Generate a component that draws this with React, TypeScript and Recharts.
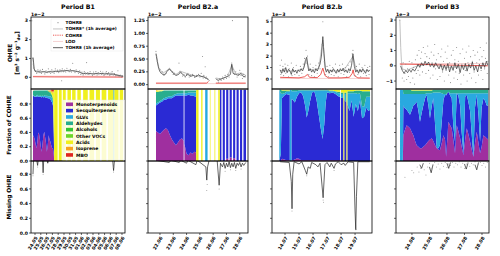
import React from 'react';
import { ComposedChart, AreaChart, Area, Line, Scatter, XAxis, YAxis } from 'recharts';

const FONT = 'DejaVu Sans, Verdana, sans-serif';

// ---------- labels ----------
const periodTitles = ['Period B1', 'Period B2.a', 'Period B2.b', 'Period B3'];
const offsetTexts = ['1e\u22122', '1e\u22122', '1e\u22123', '1e\u22123'];
const b1Dates = ['24.05', '25.05', '26.05', '27.05', '28.05', '29.05', '30.05', '31.05', '01.06', '02.06', '03.06', '04.06', '05.06', '06.06', '07.06', '08.06'];
const b2aDates = ['22.06', '23.06', '24.06', '25.06', '26.06', '27.06', '28.06'];
const b2bDates = ['14.07', '15.07', '16.07', '17.07', '18.07', '19.07'];
const b3Dates = ['24.08', '25.08', '26.08', '27.08', '28.08'];

const categories = ['Monoterpenoids', 'Sesquiterpenes', 'GLVs', 'Aldehydes', 'Alcohols', 'Other VOCs', 'Acids', 'Isoprene', 'MBO'];
const catColors = ['#9f2f9f', '#2a2ad4', '#29a9e0', '#28ad8e', '#33c433', '#6cd62a', '#f0f01e', '#f7a21f', '#df2620'];
const topLegend = ['TOHRE', 'TOHRE* (1h average)', 'COHRE', 'LOD', 'TOHRE (1h average)'];

// ---------- top row: OHRE (days since first tick, value in offset units) ----------
const b1Scatter = [[-0.55,3.0],[-0.4,1.0],[-0.3,0.7],[-0.2,0.5],[0.1,0.35],[0.3,0.2],[0.5,0.4],[0.7,0.25],[0.9,0.38],[1.1,0.2],[1.3,0.42],[1.5,0.3],[1.7,0.18],[1.9,0.35],[2.1,0.25],[2.3,0.45],[2.5,0.28],[2.7,0.2],[2.9,0.4],[3.1,0.3],[3.3,0.22],[3.5,0.45],[3.7,0.3],[3.9,0.38],[4.1,0.25],[4.3,0.4],[4.5,0.3],[4.6,-0.18],[4.7,0.45],[4.9,0.3],[5.1,0.38],[5.3,0.28],[5.5,0.48],[5.7,0.35],[5.9,0.3],[6.1,0.42],[6.3,0.28],[6.5,0.75],[6.7,0.35],[6.9,0.25],[7.1,0.4],[7.3,0.3],[7.5,0.22],[7.7,0.35],[7.9,0.15],[8.1,0.28],[8.3,0.12],[8.5,0.3],[8.7,0.18],[8.9,0.78],[9.1,0.25],[9.3,0.15],[9.5,0.3],[9.7,0.2],[9.9,0.1],[10.1,0.28],[10.3,0.18],[10.5,0.3],[10.7,0.12],[10.9,0.25],[11.1,0.2],[11.3,0.32],[11.5,0.15],[11.7,0.28],[11.9,0.1],[12.1,0.22],[12.3,0.3],[12.5,0.15],[12.7,0.25],[12.9,0.1],[13.1,0.22],[13.3,0.3],[13.5,0.12],[13.7,0.2],[13.9,0.08],[14.1,0.15],[14.3,0.35],[14.5,0.05],[14.7,0.12],[14.9,0.02],[15.1,0.08]];
const b1Star = [[-0.35,1.05],[-0.2,0.5],[0,0.35],[1,0.32],[2,0.3],[3,0.33],[4,0.34],[5,0.36],[6,0.37],[7,0.34],[7.9,0.28],[8.1,0.22],[9,0.21],[10,0.2],[11,0.21],[12,0.19],[13,0.18],[14,0.13],[15.2,0.06]];
const b1Avg = [[-0.35,1.05],[-0.25,0.8],[-0.15,0.45],[0,0.32],[0.3,0.28],[0.6,0.3],[1,0.27],[1.5,0.3],[2,0.26],[2.5,0.3],[3,0.28],[3.5,0.32],[4,0.3],[4.5,0.34],[5,0.33],[5.5,0.36],[6,0.33],[6.5,0.35],[7,0.32],[7.5,0.3],[8,0.22],[8.3,0.18],[8.7,0.22],[9,0.18],[9.5,0.2],[10,0.17],[10.5,0.2],[11,0.18],[11.5,0.21],[12,0.17],[12.5,0.2],[13,0.16],[13.5,0.18],[14,0.12],[14.5,0.1],[15,0.06],[15.2,0.05]];
const b1Cohre = [[-0.35,0.03],[3.3,0.02],[8,0.02],[15.2,0.01]];
const b1Lod = [[-0.35,0.06],[15.2,0.06]];

const b2aScatter = [[-0.3,0.65],[-0.25,0.55],[-0.2,0.45],[-0.1,0.35],[0,0.3],[0.1,0.22],[0.2,0.25],[0.3,0.18],[0.45,0.22],[0.6,0.28],[0.7,0.32],[0.8,0.3],[0.9,0.25],[1.0,0.2],[1.1,0.22],[1.25,0.18],[1.4,0.2],[1.43,0.42],[1.5,0.26],[1.6,0.22],[1.7,0.17],[1.8,0.2],[1.9,0.15],[2.0,0.2],[2.1,0.22],[2.2,0.15],[2.3,0.18],[2.45,0.2],[2.6,0.14],[2.75,0.18],[2.9,0.2],[3.0,0.15],[3.1,0.22],[3.2,0.55],[3.25,0.13],[3.3,0.18],[3.4,0.35],[3.45,0.12],[3.5,0.15],[3.6,0.1],[3.7,0.08],[4.3,0.1],[4.4,0.05],[4.5,0.12],[4.6,0.08],[4.7,0.15],[4.8,0.1],[4.9,0.18],[5.0,0.12],[5.1,0.2],[5.2,0.15],[5.3,0.22],[5.4,0.42],[5.45,1.25],[5.5,0.3],[5.6,0.2],[5.7,0.25],[5.8,0.15],[5.9,0.2],[6.0,0.28],[6.1,0.18],[6.2,0.12],[6.3,0.2],[6.4,0.15]];
const b2aStar = [[-0.3,0.62],[-0.1,0.34],[0.2,0.22],[0.7,0.31],[1.2,0.2],[1.55,0.26],[2.1,0.21],[2.7,0.17],[3.3,0.16],[3.65,0.11],[3.7,null],[4.2,0.13],[4.6,0.11],[5.1,0.17],[5.4,0.38],[5.7,0.21],[6.1,0.23],[6.45,0.18]];
const b2aAvg = [[-0.3,0.6],[-0.2,0.45],[-0.1,0.32],[0,0.25],[0.2,0.2],[0.4,0.2],[0.55,0.27],[0.7,0.3],[0.85,0.27],[1.0,0.22],[1.2,0.18],[1.4,0.2],[1.55,0.25],[1.7,0.2],[1.9,0.16],[2.1,0.2],[2.3,0.16],[2.5,0.18],[2.7,0.15],[2.9,0.19],[3.1,0.16],[3.3,0.15],[3.5,0.12],[3.65,0.1],[3.7,null],[4.2,0.12],[4.35,0.08],[4.5,0.1],[4.7,0.12],[4.9,0.14],[5.1,0.16],[5.3,0.2],[5.4,0.4],[5.5,0.22],[5.7,0.2],[5.9,0.18],[6.1,0.22],[6.3,0.15],[6.45,0.17]];
const b2aCohre = [[-0.3,0.03],[3.5,0.03],[3.65,0.06],[3.7,null],[4.2,0.03],[6.45,0.03]];
const b2aLod = [[-0.3,0.02],[6.45,0.02]];

const b2bScatter = [[-0.35,1.2],[-0.3,0.4],[-0.25,1.65],[-0.2,0.6],[-0.15,1.1],[-0.1,0.3],[-0.05,0.9],[0.0,1.3],[0.05,0.5],[0.1,0.8],[0.2,1.2],[0.25,0.2],[0.3,0.9],[0.4,0.6],[0.45,1.4],[0.5,0.3],[0.6,1.0],[0.7,0.4],[0.8,1.2],[0.9,0.7],[1.0,0.3],[1.1,1.1],[1.2,0.5],[1.3,1.3],[1.4,1.8],[1.5,2.5],[1.55,1.4],[1.6,2.0],[1.7,0.4],[1.8,1.3],[1.9,0.3],[2.0,1.0],[2.1,0.2],[2.2,1.2],[2.3,0.5],[2.4,1.4],[2.5,0.9],[2.6,2.5],[2.65,3.0],[2.7,5.0],[2.75,2.8],[2.8,1.5],[2.9,0.4],[3.0,1.1],[3.1,0.2],[3.2,1.2],[3.3,0.4],[3.4,1.0],[3.5,0.3],[3.6,1.3],[3.7,0.6],[3.8,0.2],[3.9,1.2],[4.0,0.5],[4.1,1.3],[4.2,0.4],[4.3,1.0],[4.4,0.2],[4.5,1.2],[4.6,0.6],[4.7,1.5],[4.8,2.2],[4.85,2.5],[4.9,1.6],[5.0,0.3],[5.1,1.1],[5.2,0.4],[5.3,1.3],[5.4,0.2],[5.5,1.0],[5.6,0.5],[5.7,1.2],[5.8,0.3],[5.9,1.0],[6.0,0.4],[6.05,1.1]];
const b2bStar = [[-0.35,0.75],[0.2,0.7],[0.8,0.72],[1.3,0.9],[1.55,1.7],[1.75,0.8],[2.4,0.9],[2.7,3.4],[2.9,0.8],[3.5,0.7],[4.2,0.75],[4.86,2.0],[5.1,0.7],[6.05,0.72]];
const b2bAvg = [[-0.35,0.8],[-0.25,0.5],[-0.15,0.9],[-0.05,0.6],[0.05,1.0],[0.15,0.55],[0.25,0.85],[0.35,0.7],[0.45,0.4],[0.55,0.9],[0.65,0.6],[0.75,0.75],[0.85,0.5],[0.95,0.8],[1.05,0.65],[1.15,0.9],[1.25,0.7],[1.35,1.0],[1.45,1.6],[1.55,1.9],[1.62,1.2],[1.7,0.7],[1.8,0.9],[1.9,0.6],[2.0,0.8],[2.1,0.55],[2.2,0.9],[2.3,0.7],[2.4,1.0],[2.5,1.3],[2.6,2.0],[2.7,3.7],[2.78,2.2],[2.86,1.0],[2.95,0.6],[3.05,0.85],[3.15,0.5],[3.25,0.8],[3.35,0.6],[3.45,0.9],[3.55,0.7],[3.65,0.5],[3.75,0.85],[3.85,0.6],[3.95,0.9],[4.05,0.7],[4.15,0.95],[4.25,0.6],[4.35,0.8],[4.45,0.55],[4.55,0.9],[4.65,0.7],[4.75,1.2],[4.85,2.2],[4.95,1.1],[5.05,0.6],[5.15,0.8],[5.25,0.5],[5.35,0.85],[5.45,0.6],[5.55,0.9],[5.65,0.7],[5.75,0.5],[5.85,0.85],[5.95,0.65],[6.05,0.8]];
const b2bCohre = [[-0.35,0.15],[0.5,0.12],[1.0,0.1],[1.4,0.2],[1.6,0.4],[1.75,0.15],[2.3,0.12],[2.55,0.4],[2.7,0.95],[2.85,0.3],[3.1,0.1],[4.0,0.1],[4.6,0.15],[4.8,0.5],[4.86,0.8],[4.95,0.3],[5.2,0.1],[6.05,0.08]];
const b2bLod = [[-0.35,0.05],[6.05,0.05]];

const b3Scatter = [[-0.69,3.0],[-0.6,-0.2],[-0.55,-0.8],[-0.5,0.2],[-0.45,-1.0],[-0.4,-0.5],[-0.35,0.1],[-0.3,-0.9],[-0.25,-0.2],[-0.2,-0.7],[-0.15,0.3],[-0.1,-1.1],[-0.05,-0.4],[0.0,0.2],[0.05,-0.8],[0.1,-0.1],[0.15,-1.2],[0.2,0.4],[0.25,-0.5],[0.3,0.7],[0.35,-0.3],[0.4,1.0],[0.45,-0.6],[0.5,0.5],[0.55,0.9],[0.6,-0.4],[0.65,1.2],[0.7,0.1],[0.75,0.8],[0.8,-0.5],[0.85,0.6],[0.9,1.3],[0.95,-0.3],[1.0,0.5],[1.05,-0.8],[1.1,0.9],[1.15,0.2],[1.2,-0.6],[1.25,0.7],[1.3,1.4],[1.35,-0.2],[1.4,0.4],[1.45,-0.9],[1.5,0.8],[1.55,0.1],[1.6,-0.7],[1.65,0.6],[1.7,1.1],[1.75,-0.4],[1.8,0.3],[1.85,-1.0],[1.9,0.9],[1.95,-0.3],[2.0,0.5],[2.05,1.3],[2.1,-0.6],[2.15,0.2],[2.2,-1.1],[2.25,0.7],[2.3,-0.2],[2.35,1.0],[2.4,-0.8],[2.45,0.4],[2.5,-0.4],[2.55,1.2],[2.6,-0.9],[2.65,0.3],[2.7,-0.5],[2.75,0.8],[2.8,-1.2],[2.85,0.1],[2.9,1.1],[2.95,-0.6],[3.0,0.5],[3.05,-0.3],[3.1,0.9],[3.15,-1.0],[3.2,0.2],[3.25,1.3],[3.3,-0.5],[3.35,0.6],[3.4,-0.8],[3.45,0.3],[3.5,1.0],[3.55,-0.4],[3.6,0.7],[3.65,-1.1],[3.7,0.2],[3.75,0.9],[3.8,-0.6],[3.85,0.4],[3.9,1.2],[3.95,-0.3],[4.0,0.6],[4.05,-0.9],[4.1,1.0],[4.15,-0.2],[4.2,0.5],[4.25,1.5],[4.3,-0.5],[4.33,0.3]];
const b3Star = [[-0.69,3.0],[-0.64,1.2],[-0.6,0.3],[-0.55,-0.2],[-0.3,-0.3],[0.3,0.0],[1.0,0.1],[2.0,-0.1],[3.0,-0.05],[4.33,0.05]];
const b3Avg = [[-0.65,0.0],[-0.55,-0.3],[-0.45,-0.5],[-0.35,-0.3],[-0.25,-0.45],[-0.15,-0.25],[-0.05,-0.4],[0.05,-0.2],[0.15,-0.35],[0.25,-0.15],[0.35,0.1],[0.45,-0.1],[0.55,0.2],[0.65,0.0],[0.75,0.3],[0.85,0.05],[0.95,0.25],[1.05,-0.05],[1.15,0.15],[1.25,-0.1],[1.35,0.2],[1.45,0.0],[1.55,-0.2],[1.65,0.1],[1.75,-0.3],[1.85,0.05],[1.95,-0.25],[2.05,0.15],[2.15,-0.4],[2.25,0.0],[2.35,-0.3],[2.45,0.2],[2.55,-0.2],[2.65,0.1],[2.75,-0.45],[2.85,0.05],[2.95,-0.25],[3.05,0.15],[3.15,-0.35],[3.25,0.1],[3.35,-0.15],[3.45,0.25],[3.55,-0.3],[3.65,0.0],[3.75,-0.4],[3.85,0.1],[3.95,-0.2],[4.05,0.2],[4.15,-0.1],[4.25,0.3],[4.33,0.05]];
const b3Cohre = [[-0.69,0.11],[0,0.1],[1,0.08],[2,0.05],[3,0.03],[4.33,0.0]];
const b3Lod = [[-0.69,0.15],[4.33,0.15]];

// ---------- middle row: fraction of COHRE ----------
// continuous samples: [t, mono, sesq, glv, ald, alc, other, acid, isoprene, mbo]
// stripes (isolated samples between data gaps): [tStart, tEnd, mono, sesq, glv, ald, alc, other, acid, isoprene, mbo]
const b1Frac = [
  [-0.35,0.36,0.56,0,0.06,0,0,0,0.01],[-0.2,0.34,0.57,0.01,0.07],[-0.05,0.3,0.6,0.01,0.08],[0.1,0.24,0.66,0.01,0.08],
  [0.25,0.18,0.72,0.02,0.07],[0.4,0.26,0.65,0.02,0.06],[0.55,0.4,0.5,0.01,0.08],[0.7,0.38,0.52,0.02,0.07],
  [0.85,0.3,0.6,0.01,0.08],[1.0,0.2,0.7,0.02,0.07],[1.15,0.13,0.76,0.02,0.08],[1.3,0.24,0.66,0.02,0.07],
  [1.45,0.36,0.53,0.02,0.08],[1.6,0.41,0.49,0.02,0.07],[1.75,0.33,0.56,0.03,0.07],[1.9,0.25,0.64,0.02,0.08],
  [2.05,0.13,0.76,0.03,0.07],[2.2,0.22,0.66,0.03,0.07,0.01],[2.35,0.36,0.52,0.03,0.06,0.01,0,0,0.01],
  [2.5,0.3,0.57,0.04,0.05,0.01,0,0,0.02],[2.65,0.27,0.6,0.04,0.05,0.01,0.01,0,0.01],
  [2.8,0.22,0.62,0.05,0.04,0.01,0.01,0.02,0.02,0.01],[2.95,0.18,0.64,0.06,0.04,0,0.01,0.03,0.02,0.02],
  [3.1,0.18,0.6,0.06,0.03,0,0.01,0.08,0.02,0.02],[3.25,0.08,0.25,0.04,0.02,0,0.01,0.56,0.02,0.02],
];
const b1Stripes = [
  [3.3,3.9,0,0,0,0,0,0,1],[4.1,4.6,0,0,0,0,0,0,1],[4.8,5.3,0,0,0,0,0,0,1],[5.6,6.2,0,0,0,0,0,0,1],
  [6.4,7.0,0,0,0,0,0,0,1],[7.3,7.9,0,0,0,0,0,0,1],[8.3,9.1,0,0,0,0,0,0,1],[9.4,10.2,0,0,0,0,0,0,1],
  [10.5,11.2,0,0,0,0,0,0,1],[11.5,12.3,0,0,0,0,0,0,1],[12.6,13.5,0,0,0,0,0,0,1],[13.5,13.7,0,0,1],
  [13.7,14.4,0,0,0,0,0,0,1],[14.6,15.2,0,0,0,0,0,0,1],
];
const b2aFrac = [
  [-0.3,0.42,0.36,0.03,0.16,0,0,0.02,0.01],[-0.15,0.4,0.4,0.02,0.15,0,0,0.02],[0.0,0.38,0.44,0.02,0.14,0,0,0.01],
  [0.15,0.41,0.42,0.03,0.12,0,0,0.01],[0.3,0.44,0.42,0.02,0.11],[0.45,0.46,0.4,0.03,0.1],[0.6,0.43,0.45,0.02,0.09],
  [0.75,0.36,0.52,0.03,0.08],[0.9,0.3,0.58,0.03,0.08],[1.05,0.26,0.64,0.03,0.06],[1.2,0.22,0.7,0.02,0.05],
  [1.35,0.26,0.66,0.03,0.04],[1.5,0.3,0.62,0.03,0.04],[1.65,0.32,0.6,0.03,0.04],[1.78,0.28,0.64,0.03,0.04],
  [1.78,0],[1.84,0],[1.84,0.24,0.68,0.03,0.04],
  [2.0,0.1,0.82,0.03,0.04],[2.15,0.08,0.85,0.03,0.03],[2.3,0.12,0.8,0.04,0.03],[2.45,0.1,0.82,0.04,0.03],
  [2.6,0.13,0.78,0.05,0.03],[2.72,0.12,0.78,0.06,0.03],
];
const b2aStripes = [
  [2.72,2.9,0,0,0,0,0,0,1],[3.1,3.2,0,0,0,0,0,0,1],[3.4,3.58,0,0,1],[3.75,3.8,0,0,0,0,0,0,1],
  [4.1,4.16,0,0,0,0,0,0,1],[4.38,4.5,0,0,0,0,0,0,1],[4.5,4.62,0,1],[4.72,4.88,0,1],[4.98,5.14,0.03,0.97],
  [5.24,5.4,0.05,0.95],[5.5,5.66,0.04,0.96],[5.76,5.92,0,1],[6.02,6.18,0,1],[6.28,6.47,0,1],
];
const b2bFrac = [
  [-0.41,0,0,1],[-0.3,0,0.1,0.85,0.05],[-0.22,0.03,0.85,0.06,0.05,0,0,0.01],[-0.05,0.02,0.9,0.03,0.04,0,0,0.01],
  [0.1,0.01,0.93,0.03,0.02,0,0,0.01],[0.25,0.01,0.92,0.04,0.02,0,0,0.01],[0.34,0.01,0.92,0.04,0.02,0,0,0.01],
  [0.34,0,0,1],[0.46,0,0,1],[0.46,0.01,0.86,0.11,0.02],
  [0.55,0.01,0.85,0.12,0.02],[0.7,0.02,0.8,0.16,0.02],[0.85,0.04,0.86,0.08,0.02],[1.0,0.03,0.92,0.04,0.01],
  [1.15,0.01,0.95,0.03,0.01],[1.3,0.01,0.9,0.08,0.01],[1.45,0.01,0.75,0.23,0.01],[1.55,0.01,0.6,0.38,0.01],
  [1.65,0.01,0.68,0.3,0.01],[1.78,0.01,0.82,0.16,0.01],[1.93,0.01,0.95,0.03,0.01],[2.1,0.01,0.96,0.02,0.01],
  [2.25,0.01,0.85,0.13,0.01],[2.4,0.01,0.65,0.33,0.01],[2.55,0.01,0.45,0.53,0.01],[2.68,0.01,0.3,0.68,0.01],
  [2.8,0.01,0.5,0.48,0.01],[2.9,0.01,0.8,0.18,0.01],[3.0,0.01,0.95,0.03,0.01],[3.2,0.01,0.94,0.03,0.01,0,0,0.01],
  [3.4,0.01,0.95,0.02,0.01,0,0,0.01],[3.6,0.01,0.93,0.03,0.01,0,0,0.02],[3.8,0.01,0.9,0.04,0.02,0,0,0.03],
  [3.93,0.01,0.89,0.05,0.02,0,0,0.03],[3.93,0],[3.99,0],[3.99,0.01,0.88,0.05,0.02,0,0,0.04],
  [4.17,0.01,0.87,0.06,0.02,0,0,0.04],[4.17,0,0,0,0,0,0,1],[4.23,0,0,0,0,0,0,1],[4.23,0,0.86,0.08,0.02,0,0,0.04],
  [4.39,0,0.82,0.12,0.02,0,0,0.04],[4.39,0,0,0,0,0,0,1],[4.45,0,0,0,0,0,0,1],[4.45,0,0.8,0.15,0.03,0,0,0.02],
  [4.6,0,0.7,0.25,0.03,0,0,0.02],[4.75,0,0.85,0.1,0.03,0,0,0.02],[4.9,0,0.62,0.33,0.03,0,0,0.02],
  [5.05,0,0.8,0.15,0.04,0,0,0.01],[5.2,0,0.7,0.24,0.05,0,0,0.01],[5.35,0,0.85,0.1,0.04,0,0,0.01],
  [5.5,0,0.6,0.17,0.21,0,0,0.02],[5.65,0,0.62,0.14,0.22,0,0,0.02],[5.8,0,0.75,0.15,0.08,0,0,0.02],
  [5.95,0,0.7,0.2,0.08,0,0,0.02],[6.07,0,0.72,0.18,0.08,0,0,0.02],
];
const b2bStripes: number[][] = [];
const b3Frac = [
  [-0.68,0,0,1],[-0.52,0,0,1],[-0.49,0.36,0.42,0.16,0.06],[-0.4,0.44,0.3,0.2,0.06],[-0.3,0.5,0.22,0.22,0.06],
  [-0.2,0.48,0.2,0.26,0.06],[-0.11,0.46,0.19,0.29,0.06],[0.0,0.4,0.32,0.22,0.05,0,0,0.01],
  [0.08,0.36,0.42,0.16,0.05,0,0,0.01],[0.18,0.28,0.52,0.14,0.05,0,0,0.01],[0.27,0.22,0.61,0.11,0.05,0,0,0.01],
  [0.37,0.2,0.5,0.24,0.05,0,0,0.01],[0.46,0.18,0.37,0.39,0.05,0,0,0.01],[0.56,0.18,0.5,0.26,0.05,0,0,0.01],
  [0.65,0.2,0.58,0.16,0.05,0,0,0.01],[0.75,0.22,0.66,0.06,0.05,0,0,0.01],[0.84,0.25,0.68,0.02,0.04,0,0,0.01],
  [0.94,0.28,0.5,0.17,0.04,0,0,0.01],[1.03,0.3,0.3,0.35,0.04,0,0,0.01],[1.13,0.32,0.45,0.18,0.04,0,0,0.01],
  [1.22,0.28,0.6,0.08,0.04],[1.32,0.22,0.3,0.44,0.04],[1.42,0.18,0.0,0.78,0.04],[1.5,0.16,0.02,0.78,0.04],
  [1.6,0.15,0.07,0.74,0.04],[1.7,0.25,0.3,0.4,0.05],[1.8,0.36,0.5,0.08,0.06],[1.89,0.3,0.63,0.01,0.06],
  [1.95,0.06,0.86,0.02,0.06],[2.02,0.3,0.65,0,0.05],[2.08,0.55,0.42,0,0.03],[2.18,0.5,0.42,0.03,0.05],
  [2.27,0.46,0.42,0.07,0.05],[2.36,0.3,0.2,0.45,0.05],[2.46,0.11,0.16,0.68,0.05],[2.56,0.5,0.45,0,0.05],
  [2.65,0.42,0.5,0.03,0.05],[2.75,0.32,0.46,0.17,0.05],[2.84,0.2,0.2,0.55,0.05],[2.94,0.08,0.03,0.84,0.05],
  [3.04,0.3,0.6,0.05,0.05],[3.13,0.46,0.47,0.02,0.05],[3.22,0.38,0.45,0.12,0.05],[3.32,0.27,0.43,0.25,0.05],
  [3.42,0.15,0.2,0.6,0.05],[3.51,0.06,0,0.89,0.05],[3.6,0.25,0.5,0.2,0.05],[3.7,0.41,0.52,0.02,0.05],
  [3.8,0.25,0.4,0.3,0.05],[3.89,0.11,0.16,0.68,0.05],[3.98,0.2,0.55,0.2,0.05],[4.08,0.36,0.52,0.07,0.05],
  [4.18,0.34,0.5,0.11,0.05],[4.27,0.32,0.46,0.17,0.05],[4.35,0.3,0.48,0.17,0.05],
];
const b3Stripes: number[][] = [];

// ---------- bottom row: missing OHRE ----------
const b1Missing = [[-0.35,0.8],[-0.25,0.99],[0.3,0.99],[0.45,0.92],[0.55,0.99],[1.3,0.99],[1.4,0.82],[1.5,0.99],[2.1,0.99],[2.2,0.95],[2.3,0.99],[13.4,0.99],[13.55,0.85],[13.7,0.99],[15.2,0.99]];
const b1MissPts = [[-0.35,0.78],[0.45,0.9],[1.4,0.8],[13.55,0.83],[13.6,0.9]];
const b2aMissing = [[-0.3,0.99],[0.7,0.96],[0.8,0.99],[1.45,0.96],[1.55,0.99],[2.0,0.95],[2.1,0.99],[2.7,0.93],[2.8,0.99],[3.45,0.9],[3.52,0.72],[3.58,0.9],[3.7,0.99],[4.3,0.99],[4.45,0.65],[4.55,0.95],[4.7,0.9],[4.8,0.96],[4.9,0.88],[5.0,0.95],[5.1,0.9],[5.2,0.97],[5.3,0.89],[5.4,0.95],[5.5,0.9],[5.6,0.96],[5.7,0.88],[5.8,0.95],[5.9,0.92],[6.0,0.96],[6.1,0.9],[6.2,0.95],[6.3,0.92],[6.45,0.96]];
const b2aMissPts = [[3.52,0.58],[3.55,0.66],[4.45,0.6],[4.9,0.84],[5.3,0.86],[5.7,0.85],[6.1,0.87]];
const b2bMissing = [[-0.35,0.97],[0.3,0.96],[0.45,0.7],[0.5,0.33],[0.55,0.8],[0.65,0.97],[1.0,0.94],[1.2,0.97],[1.45,0.85],[1.55,0.8],[1.65,0.9],[1.8,0.88],[1.9,0.96],[2.2,0.93],[2.35,0.9],[2.5,0.95],[2.72,0.48],[2.85,0.93],[3.0,0.96],[3.2,0.9],[3.3,0.95],[3.5,0.88],[3.6,0.94],[3.8,0.97],[4.0,0.93],[4.2,0.95],[4.3,0.92],[4.5,0.97],[4.9,0.96],[5.0,0.3],[5.05,0.04],[5.1,0.5],[5.2,0.97],[6.05,0.97]];
const b2bMissPts = [[0.5,0.3],[1.55,0.78],[2.72,0.45],[2.75,0.42],[5.05,0.05],[3.5,0.85]];
const b3Missing = [[0.45,0.93],[0.55,0.88],[0.65,0.95],[0.75,null],[1.0,0.9],[1.1,0.82],[1.2,0.93],[1.3,null],[2.0,0.95],[2.1,0.88],[2.2,0.96],[2.3,null],[3.0,0.94],[3.1,0.87],[3.2,0.95],[3.3,null],[3.6,0.93],[3.7,0.86],[3.8,0.96]];
const b3MissPts = [[-0.4,0.76],[0.0,0.85],[0.1,0.82],[0.3,0.9],[0.4,0.83],[0.5,0.88],[0.6,0.93],[0.7,0.86],[0.8,0.79],[0.9,0.9],[1.0,0.95],[1.1,0.88],[1.2,0.93],[1.3,0.96],[1.4,0.9],[1.5,0.94],[1.6,0.87],[1.7,0.95],[1.8,0.91],[1.9,0.96],[2.0,0.89],[2.1,0.94],[2.2,0.92],[2.3,0.96],[2.4,0.9],[2.5,0.95],[2.6,0.93],[2.7,0.97],[2.8,0.9],[2.9,0.95],[3.0,0.88],[3.1,0.94],[3.2,0.96],[3.3,0.91],[3.4,0.95],[3.5,0.93],[3.6,0.97],[3.7,0.89],[3.8,0.94],[3.9,0.96],[4.0,0.92],[4.1,0.95],[4.2,0.9],[4.3,0.96]];

// ---------- layout ----------
const ROW_TOP = 17, ROW_H = 72;
const YW = 22;
const panels = [
  { left: 31, right: 125, xDom: [-0.69, 15.52], yDom: [-0.62, 3.2], yTicks: [0, 1, 2, 3], dec: 0, dates: b1Dates,
    scatter: b1Scatter, star: b1Star, avg: b1Avg, cohre: b1Cohre, lod: b1Lod, frac: b1Frac, stripes: b1Stripes, miss: b1Missing, missPts: b1MissPts },
  { left: 148, right: 248, xDom: [-0.9, 6.62], yDom: [-0.085, 1.32], yTicks: [0, 0.25, 0.5, 0.75, 1.0, 1.25], dec: 2, dates: b2aDates,
    scatter: b2aScatter, star: b2aStar, avg: b2aAvg, cohre: b2aCohre, lod: b2aLod, frac: b2aFrac, stripes: b2aStripes, miss: b2aMissing, missPts: b2aMissPts },
  { left: 272, right: 372, xDom: [-0.93, 6.21], yDom: [-0.87, 5.41], yTicks: [0, 1, 2, 3, 4, 5], dec: 0, dates: b2bDates,
    scatter: b2bScatter, star: b2bStar, avg: b2bAvg, cohre: b2bCohre, lod: b2bLod, frac: b2bFrac, stripes: b2bStripes, miss: b2bMissing, missPts: b2bMissPts },
  { left: 396, right: 489, xDom: [-0.91, 4.4], yDom: [-1.52, 3.2], yTicks: [-1, 0, 1, 2, 3], dec: 0, dates: b3Dates,
    scatter: b3Scatter, star: b3Star, avg: b3Avg, cohre: b3Cohre, lod: b3Lod, frac: b3Frac, stripes: b3Stripes, miss: b3Missing, missPts: b3MissPts },
];

const toPts = (arr: any[]) => arr.map(([t, v]) => ({ t, v }));
const rowObj = (t: number, vals: number[]) => {
  const o: any = { t };
  for (let i = 0; i < 9; i++) o['c' + i] = vals[i] ?? 0;
  return o;
};
const buildFrac = (cont: number[][], stripes: number[][]) => {
  const rows = cont.map((r) => rowObj(r[0], r.slice(1)));
  stripes.forEach((s) => {
    const vals = s.slice(2);
    rows.push(rowObj(s[0], []), rowObj(s[0], vals), rowObj(s[1], vals), rowObj(s[1], []));
  });
  return rows;
};
const fmtNum = (dec: number) => (v: number) => {
  const s = v.toFixed(dec);
  return s.startsWith('-') ? '\u2212' + s.slice(1) : s;
};
const fracTicks = [0, 0.2, 0.4, 0.6, 0.8];
const TICK_FS = 4.6;
const tickStyle = { fontSize: TICK_FS, fontWeight: 'bold' as const, fill: '#000', fontFamily: FONT };

const makeXTick = (labels: string[]) => (props: any) => {
  const { x, y, payload } = props;
  const lab = labels[Math.round(payload.value)] ?? '';
  return (
    <text x={x + 1.5} y={y + 1} transform={`rotate(-60 ${x + 1.5} ${y + 1})`} textAnchor="end" dominantBaseline="central"
      fontSize={TICK_FS} fontWeight="bold" fontFamily={FONT} fill="#000">{lab}</text>
  );
};

const dotShape = (color: string, r: number) => (props: any) =>
  props.cx == null ? <g /> : <circle cx={props.cx} cy={props.cy} r={r} fill={color} />;

const chartStyle = { overflow: 'visible' as const };

function TopCell({ p }: { p: any }) {
  const w = p.right - p.left;
  return (
    <div style={{ position: 'absolute', left: p.left - YW, top: ROW_TOP }}>
      <ComposedChart width={w + YW} height={ROW_H} margin={{ top: 0, right: 0, bottom: 0, left: 0 }} style={chartStyle}>
        <XAxis type="number" dataKey="t" domain={p.xDom} allowDataOverflow hide />
        <YAxis type="number" dataKey="v" domain={p.yDom} allowDataOverflow ticks={p.yTicks} interval={0} width={YW}
          tickFormatter={fmtNum(p.dec)} tick={tickStyle} tickSize={2} tickMargin={1} axisLine={false}
          tickLine={{ stroke: '#000', strokeWidth: 0.6 }} />
        <Scatter data={toPts(p.scatter)} fill="#8a8a8a" shape={dotShape('#8a8a8a', 0.55)} isAnimationActive={false} />
        <Line data={toPts(p.lod)} dataKey="v" stroke="#f2c6c6" strokeWidth={0.8} dot={false} activeDot={false} isAnimationActive={false} />
        <Line data={toPts(p.star)} dataKey="v" stroke="#b4b4b4" strokeWidth={0.8} dot={false} activeDot={false} isAnimationActive={false} />
        <Line data={toPts(p.cohre)} dataKey="v" stroke="#e8302a" strokeWidth={0.8} dot={false} activeDot={false} isAnimationActive={false} />
        <Line data={toPts(p.avg)} dataKey="v" stroke="#333333" strokeWidth={0.7} dot={false} activeDot={false} isAnimationActive={false} />
      </ComposedChart>
    </div>
  );
}

function MidCell({ p, idx }: { p: any; idx: number }) {
  const w = p.right - p.left;
  return (
    <div style={{ position: 'absolute', left: p.left - YW, top: ROW_TOP + ROW_H }}>
      <AreaChart width={w + YW} height={ROW_H} data={buildFrac(p.frac, p.stripes)} margin={{ top: 0, right: 0, bottom: 0, left: 0 }} style={chartStyle}>
        <XAxis type="number" dataKey="t" domain={p.xDom} allowDataOverflow hide />
        <YAxis type="number" domain={[0, 1.01]} allowDataOverflow ticks={fracTicks} interval={0} width={YW}
          tickFormatter={idx === 0 ? fmtNum(1) : () => ''} tick={tickStyle} tickSize={2} tickMargin={1} axisLine={false}
          tickLine={{ stroke: '#000', strokeWidth: 0.6 }} />
        {categories.map((c, i) => (
          <Area key={c} name={c} dataKey={'c' + i} stackId="s" type="linear" stroke="none" fill={catColors[i]}
            fillOpacity={1} dot={false} activeDot={false} isAnimationActive={false} />
        ))}
      </AreaChart>
    </div>
  );
}

function BotCell({ p, idx }: { p: any; idx: number }) {
  const w = p.right - p.left;
  const ticks = p.dates.map((_: string, i: number) => i);
  return (
    <div style={{ position: 'absolute', left: p.left - YW, top: ROW_TOP + 2 * ROW_H }}>
      <ComposedChart width={w + YW} height={ROW_H + 24} margin={{ top: 0, right: 0, bottom: 0, left: 0 }} style={chartStyle}>
        <XAxis type="number" dataKey="t" domain={p.xDom} allowDataOverflow ticks={ticks} interval={0} height={24}
          tick={makeXTick(p.dates)} tickSize={2} tickMargin={1} axisLine={false} tickLine={{ stroke: '#000', strokeWidth: 0.6 }} />
        <YAxis type="number" dataKey="v" domain={[0, 0.98]} allowDataOverflow ticks={fracTicks} interval={0} width={YW}
          tickFormatter={idx === 0 ? fmtNum(1) : () => ''} tick={tickStyle} tickSize={2} tickMargin={1} axisLine={false}
          tickLine={{ stroke: '#000', strokeWidth: 0.6 }} />
        <Scatter data={toPts(p.missPts)} fill="#9a9a9a" shape={dotShape('#9a9a9a', 0.5)} isAnimationActive={false} />
        <Line data={toPts(p.miss)} dataKey="v" stroke="#222" strokeWidth={0.7} dot={false} activeDot={false}
          connectNulls={false} isAnimationActive={false} />
      </ComposedChart>
    </div>
  );
}

function Overlay() {
  const txt = { fontFamily: FONT, fontWeight: 'bold' as const, fill: '#000' };
  const legendLines = [
    { kind: 'dot', color: '#8a8a8a' },
    { kind: 'line', color: '#b4b4b4' },
    { kind: 'dash', color: '#e8302a' },
    { kind: 'line', color: '#f2c6c6' },
    { kind: 'line', color: '#333333' },
  ];
  return (
    <svg width={500} height={256} style={{ position: 'absolute', left: 0, top: 0, pointerEvents: 'none' }}>
      {panels.map((p, i) => (
        <g key={i}>
          <text x={(p.left + p.right) / 2} y={9} textAnchor="middle" fontSize={6.2} {...txt}>{periodTitles[i]}</text>
          <text x={p.left} y={15.5} fontSize={TICK_FS} {...txt}>{offsetTexts[i]}</text>
          {[0, 1, 2].map((r) => (
            <rect key={r} x={p.left} y={ROW_TOP + r * ROW_H} width={p.right - p.left} height={ROW_H}
              fill="none" stroke="#000" strokeWidth={0.8} />
          ))}
        </g>
      ))}
      {/* y-axis labels */}
      <text transform="translate(12,53) rotate(-90)" textAnchor="middle" fontSize={5.8} {...txt}>OHRE</text>
      <text transform="translate(19,53) rotate(-90)" textAnchor="middle" fontSize={5.8} {...txt}>
        [m³ s⁻² g⁻¹<tspan fontSize={4} dy={1.2}>dw</tspan><tspan dy={-1.2}>]</tspan>
      </text>
      <text transform="translate(11,125) rotate(-90)" textAnchor="middle" fontSize={5.8} {...txt}>Fraction of COHRE</text>
      <text transform="translate(11,197) rotate(-90)" textAnchor="middle" fontSize={5.8} {...txt}>Missing OHRE</text>
      {/* top legend in B1 */}
      <rect x={51} y={19} width={72} height={32} fill="#fff" fillOpacity={0.8} stroke="#e4e4e4" strokeWidth={0.4} />
      {topLegend.map((name, i) => {
        const y = 22.7 + i * 6.25;
        const l = legendLines[i];
        return (
          <g key={name}>
            {l.kind === 'dot' ? <circle cx={58} cy={y} r={0.6} fill={l.color} /> :
              <line x1={53} y1={y} x2={63} y2={y} stroke={l.color} strokeWidth={0.8} strokeDasharray={l.kind === 'dash' ? '1 0.8' : undefined} />}
            <text x={65.5} y={y + 1.5} fontSize={4.3} {...txt}>{name}</text>
          </g>
        );
      })}
      {/* fraction legend in B1 */}
      <rect x={63} y={100} width={61.5} height={60} fill="#fff" fillOpacity={0.8} stroke="#e4e4e4" strokeWidth={0.4} />
      {categories.map((name, i) => {
        const y = 104.3 + i * 6.33;
        return (
          <g key={name}>
            <rect x={66} y={y - 1.8} width={7} height={3.6} fill={catColors[i]} />
            <text x={76} y={y + 1.6} fontSize={4.5} {...txt}>{name}</text>
          </g>
        );
      })}
    </svg>
  );
}

export default function App() {
  return (
    <div style={{ position: 'absolute', left: 0, top: 0, width: 500, height: 256, background: '#fff', overflow: 'hidden' }}>
      <style>{'.recharts-surface{overflow:visible}.recharts-wrapper{overflow:visible}'}</style>
      {panels.map((p, i) => <TopCell key={'t' + i} p={p} />)}
      {panels.map((p, i) => <MidCell key={'m' + i} p={p} idx={i} />)}
      {panels.map((p, i) => <BotCell key={'b' + i} p={p} idx={i} />)}
      <Overlay />
    </div>
  );
}
